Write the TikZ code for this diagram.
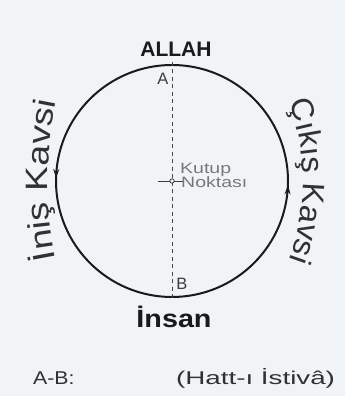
\documentclass[tikz,border=0pt]{standalone}
\usepackage{fontspec}
\setmainfont{Liberation Sans}
\usepackage{tikz}
\usetikzlibrary{positioning, arrows.meta, decorations.markings, decorations.text}
\newfontfamily\capsfont[FakeStretch=1.15]{Liberation Sans}
\newfontfamily\notefont[FakeStretch=1.3]{Liberation Sans}
\newfontfamily\widefont[FakeStretch=1.5]{Liberation Sans}
\newfontfamily\arcleftfont[FakeStretch=1.2]{Liberation Sans}
\newfontfamily\arcrightfont[FakeStretch=1.04]{Liberation Sans}
\definecolor{paper}{RGB}{241,244,247}
\definecolor{ink}{RGB}{25,25,30}
\definecolor{pencil}{RGB}{120,120,125}
\tikzset{
  biglabel/.style={
    font=\bfseries\fontsize{21}{23}\selectfont,
    text=ink, inner sep=0pt, anchor=base
  },
  humanlabel/.style={biglabel, font=\capsfont\bfseries\fontsize{25}{27}\selectfont},
  pointlabel/.style={
    font=\fontsize{16.5}{18}\selectfont,
    text=ink!85, inner sep=0pt, anchor=base
  },
  polelabel/.style={
    font=\notefont\fontsize{15}{16}\selectfont,
    text=pencil, inner sep=0pt, anchor=base west
  },
  keylabel/.style={
    font=\capsfont\fontsize{18.5}{20}\selectfont,
    text=ink!90, inner sep=0pt, anchor=base west
  },
  keytext/.style={keylabel, font=\widefont\fontsize{18.5}{20}\selectfont},
  orbit/.style={
    draw=ink, line width=2pt,
    postaction={decorate},
    decoration={markings,
      mark=at position 0.496 with {\arrow{Stealth[length=9pt, width=6pt]}},
      mark=at position 0.994 with {\arrow{Stealth[length=9pt, width=6pt]}}}
  },
  axisline/.style={draw=ink!80, line width=0.8pt, dash pattern=on 4pt off 3.5pt},
  arctext/.style={decorate, decoration={text along path, text align=center, text color=ink!90, text={#1}}}
}
\begin{document}
\begin{tikzpicture}[x=1pt, y=1pt]
  \fill[paper] (0,0) rectangle (345,396);
  \useasboundingbox (0,0) rectangle (345,396);

  \coordinate (pole) at (172,215);
  \coordinate (axtop) at (172,334);
  \coordinate (axbot) at (172,96);
  \coordinate (leftbend) at (448,216);
  \coordinate (rightbend) at (73,215);

  % circle and the two arcs
  \draw[orbit] (pole) ++(0:116) arc[start angle=0, end angle=360, radius=116];
  \draw[axisline] (axtop) -- (axbot);
  \draw[ink!85, line width=0.8pt] (158,215) -- (184,215);
  \draw[ink!85, line width=0.8pt, fill=paper] (pole) circle[radius=2.2];

  \path[arctext={|\arcleftfont\fontsize{31}{33}\selectfont|İniş Kavsi}]
    (leftbend) ++(195:400) arc[start angle=195, end angle=165, radius=400];
  \path[arctext={|\arcrightfont\fontsize{31}{33}\selectfont|Çıkış Kavsi}]
    (rightbend) ++(30:230) arc[start angle=30, end angle=-30, radius=230];

  \node[biglabel] (allah) at (176,339) {ALLAH};
  \node[pointlabel] (a) at (163,311) {A};
  \node[pointlabel] (b) at (182,106) {B};
  \node[humanlabel] (insan) at (174,68) {İnsan};

  \node[polelabel] (kutup) at (180,222) {Kutup};
  \node[polelabel] (noktasi) at (181,208) {Noktası};

  \node[keylabel] (ab) at (33,11) {A-B:};
  \node[keytext] (hatt) at (176,11) {(Hatt-ı İstivâ)};
\end{tikzpicture}
\end{document}
